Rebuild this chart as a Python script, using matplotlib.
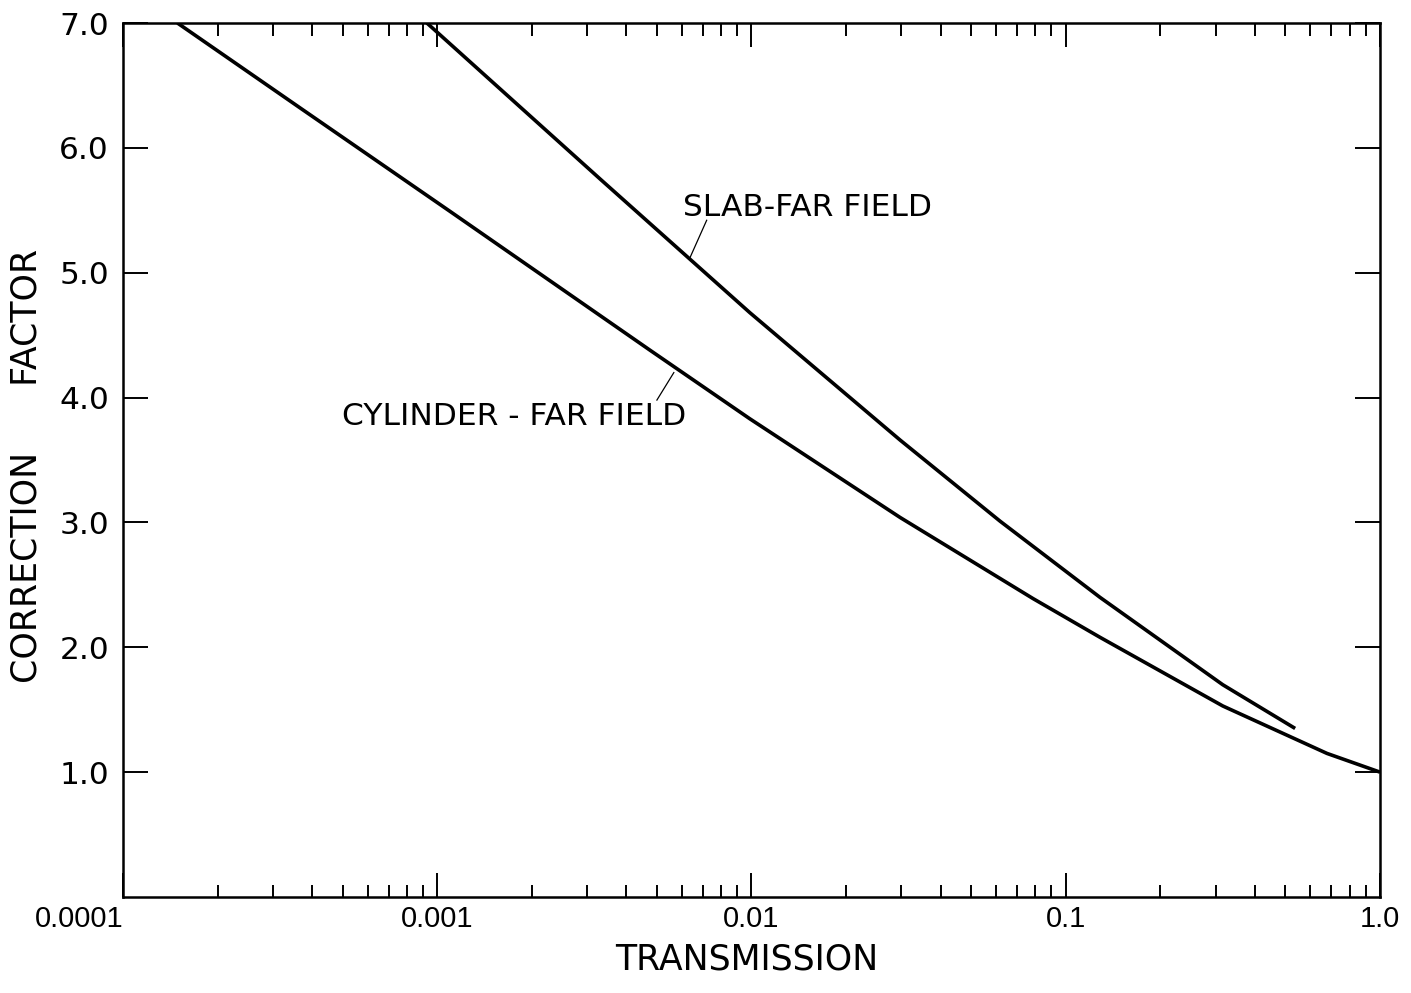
import numpy as np
import matplotlib
matplotlib.use('Agg')
from matplotlib import pyplot as plt
from matplotlib.ticker import LogLocator, NullFormatter, FixedLocator

#%% data
cyl_trans = [1.49e-4, 3.66e-4, 1.10e-3, 4.75e-3, 9.88e-3, 2.97e-2,
             7.87e-2, 0.1285, 0.316, 0.678, 1.0]
cyl_factor = [7.00, 6.32, 5.49, 4.38, 3.83, 3.04,
              2.39, 2.08, 1.53, 1.15, 1.00]

slab_trans = [9.27e-4, 3.30e-3, 9.88e-3, 2.97e-2, 6.18e-2,
              0.1285, 0.316, 0.537]
slab_factor = [7.00, 5.75, 4.68, 3.66, 3.01,
               2.40, 1.70, 1.35]

x_ticks = [1e-4, 1e-3, 1e-2, 1e-1, 1.0]
x_ticklabels = ['0.0001', '0.001', '0.01', '0.1', '1.0']
y_ticks = [1, 2, 3, 4, 5, 6, 7]
y_ticklabels = ['1.0', '2.0', '3.0', '4.0', '5.0', '6.0', '7.0']

#%% figure
plt.rcParams['font.family'] = ['DejaVu Sans']
fig = plt.figure(figsize=(14.11, 9.93), dpi=100)
ax = fig.add_axes([123/1411, 1-897/993, (1380-123)/1411, (897-23)/993])

ax.plot(cyl_trans, cyl_factor, color='black', lw=2.6, solid_capstyle='butt', solid_joinstyle='round')
ax.plot(slab_trans, slab_factor, color='black', lw=2.6, solid_capstyle='butt', solid_joinstyle='round')

ax.set_xscale('log')
ax.set_xlim(1e-4, 1.0)
ax.set_ylim(0, 7.0)

ax.xaxis.set_major_locator(FixedLocator(x_ticks))
ax.xaxis.set_minor_locator(LogLocator(base=10, subs=np.arange(2, 10), numticks=20))
ax.xaxis.set_minor_formatter(NullFormatter())
ax.set_xticks(x_ticks)
ax.set_xticklabels(x_ticklabels, family=['Liberation Sans'], fontsize=21)
ax.get_xticklabels()[0].set_ha('right')
ax.set_yticks(y_ticks)
ax.set_yticklabels(y_ticklabels, fontsize=22.5)

ax.tick_params(axis='both', which='both', direction='in', top=True, right=True, color='black')
ax.tick_params(axis='x', which='major', length=17, width=1.4, pad=6)
ax.tick_params(axis='x', which='minor', length=9, width=1.4)
ax.tick_params(axis='y', which='major', length=18, width=1.4, pad=10)
for sp in ax.spines.values():
    sp.set_linewidth(1.8)

# curve labels with leader lines
ax.text(6.05e-3, 5.52, 'SLAB-FAR FIELD', fontsize=22.5, ha='left', va='center')
ax.plot([7.2e-3, 6.37e-3], [5.42, 5.12], color='black', lw=0.9)
ax.text(4.98e-4, 3.85, 'CYLINDER - FAR FIELD', fontsize=22.5, ha='left', va='center')
ax.plot([5.0e-3, 5.66e-3], [3.98, 4.20], color='black', lw=0.9)

fig.text(747/1411, 1-960/993, 'TRANSMISSION', fontsize=25, ha='center', va='center')
fig.text(27/1411, 1-466/993, 'CORRECTION      FACTOR', fontsize=25, rotation=90,
         ha='center', va='center')

fig.savefig('out.png', dpi=100)
